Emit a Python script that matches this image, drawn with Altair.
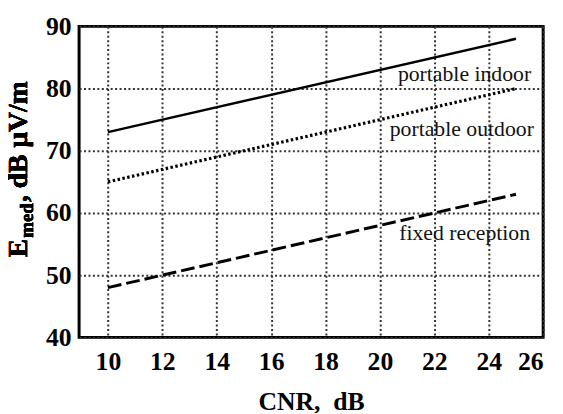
import altair as alt
import pandas as pd

# ---- data ----
cnr = [10, 25]
portable_indoor = [73, 88]
portable_outdoor = [65, 80]
fixed_reception = [48, 63]

x_ticks = [10, 12, 14, 16, 18, 20, 22, 24, 26]
y_ticks = [40, 50, 60, 70, 80, 90]

label_names = ["portable indoor", "portable outdoor", "fixed reception"]
label_cnr = [25.56, 25.66, 25.52]
label_emed = [82.4, 73.5, 56.8]

FONT = "Liberation Serif"

series_names = ["portable indoor", "portable outdoor", "fixed reception"]
df = pd.DataFrame({
    "cnr": cnr * 3,
    "emed": portable_indoor + portable_outdoor + fixed_reception,
    "series": [s for s in series_names for _ in cnr],
})
labels = pd.DataFrame({"cnr": label_cnr, "emed": label_emed, "name": label_names})

x_enc = alt.X(
    "cnr:Q",
    scale=alt.Scale(domain=[8.94, 26], nice=False, zero=False),
    axis=alt.Axis(values=x_ticks, title="CNR,\u00a0 dB", labelPadding=12,
                  titlePadding=14, labelFlush=True),
)
y_enc = alt.Y(
    "emed:Q",
    scale=alt.Scale(domain=[40, 90], nice=False, zero=False),
    axis=alt.Axis(values=y_ticks, title="", labelPadding=8),
)

base = alt.Chart(df)
styles = {
    "portable indoor": dict(strokeWidth=2.5),
    "portable outdoor": dict(strokeWidth=3.2, strokeDash=[2.5, 2.5]),
    "fixed reception": dict(strokeWidth=3, strokeDash=[14, 5]),
}
line_layers = [
    base.transform_filter(alt.datum.series == s)
    .mark_line(color="black", **styles[s])
    .encode(x=x_enc, y=y_enc)
    for s in series_names
]

text_layer = alt.Chart(labels).mark_text(
    align="right", baseline="middle", font=FONT, fontSize=22, color="#111"
).encode(x=x_enc, y=y_enc, text="name:N")

ytitle_kw = dict(angle=270, align="left", baseline="alphabetic", font=FONT,
                 fontWeight="bold", color="black")
t_E = alt.Chart(df).mark_text(text="E", fontSize=28, **ytitle_kw).encode(
    x=alt.value(-53), y=alt.value(234))
t_med = alt.Chart(df).mark_text(text="med", fontSize=19, **ytitle_kw).encode(
    x=alt.value(-47), y=alt.value(214))
t_rest = alt.Chart(df).mark_text(text=", dB \u03bcV/m", fontSize=28, **ytitle_kw).encode(
    x=alt.value(-53), y=alt.value(178))

chart = alt.layer(*line_layers, text_layer, t_E, t_med, t_rest).properties(
    width=470,
    height=315,
    autosize=alt.AutoSizeParams(type="none"),
    padding={"left": 72, "top": 16, "right": 12, "bottom": 74},
).configure_view(
    stroke="black", strokeWidth=3
).configure_axis(
    labelFont=FONT, labelFontSize=26, labelFontWeight="bold", labelColor="black",
    titleFont=FONT, titleFontSize=26, titleFontWeight="bold", titleColor="black",
    grid=True, gridDash=[2, 2.5], gridColor="#333", gridWidth=2, gridOpacity=1,
    domain=False, ticks=False, tickSize=0,
)

chart.save("out.html", embed_options={"renderer": "svg", "actions": False})
